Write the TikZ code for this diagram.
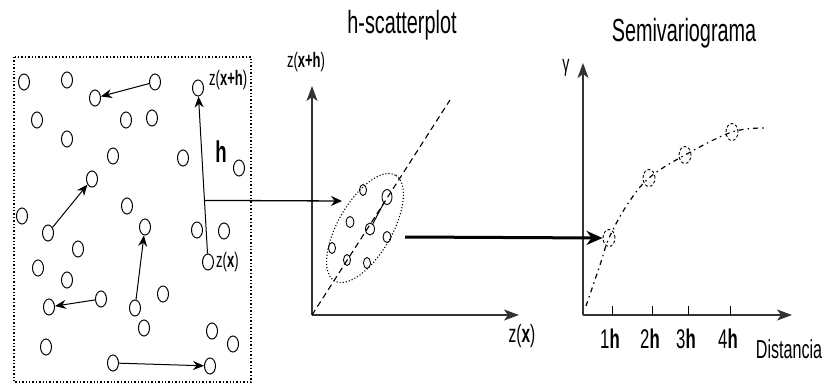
\documentclass[tikz,border=0pt]{standalone}
\usepackage{fontspec}
\newfontfamily\cf[FakeStretch=0.62]{Liberation Sans}
\usetikzlibrary{arrows.meta,shapes.geometric,calc}
\begin{document}
\begin{tikzpicture}[x=1pt,y=-1pt,
  pt/.style={draw,ellipse,line width=1pt,minimum width=11pt,minimum height=16pt,inner sep=0pt},
  spt/.style={draw,ellipse,line width=0.9pt,minimum width=7pt,minimum height=11pt,inner sep=0pt},
  bpt/.style={draw,ellipse,line width=0.9pt,minimum width=10pt,minimum height=15pt,inner sep=0pt},
  vpt/.style={draw,ellipse,line width=0.9pt,densely dashed,minimum width=12pt,minimum height=17pt,inner sep=0pt},
  arr/.style={line width=1pt,-{Stealth[length=11pt,width=9pt]}},
  axis/.style={line width=1.3pt,draw=black!80,-{Stealth[length=15pt,width=11pt,inset=4pt]}},
  lbl/.style={inner sep=0pt,font=\cf\fontsize{21}{23}\selectfont},
  ttl/.style={inner sep=0pt,font=\cf\fontsize{32}{34}\selectfont}]
\useasboundingbox (0,0) rectangle (826,385);
% left box
\draw[dotted,line width=1.4pt] (14,57) rectangle (251,382);
% points
\node[pt] (p1) at (24,82) {};
\node[pt] (p2) at (67,80) {};
\node[pt] (p3) at (155,82) {};
\node[pt] (p4) at (95,98) {};
\node[pt] (zxh) at (198,88) {};
\node[pt] (p6) at (37,120) {};
\node[pt] (p7) at (126,120) {};
\node[pt] (p8) at (152,118) {};
\node[pt] (p9) at (67,139) {};
\node[pt] (p10) at (113,156) {};
\node[pt] (p11) at (183,158) {};
\node[pt] (p12) at (239,168) {};
\node[pt] (p13) at (92,179) {};
\node[pt] (p14) at (22,216) {};
\node[pt] (p15) at (127,206) {};
\node[pt] (p16) at (48,233) {};
\node[pt] (p17) at (78,249) {};
\node[pt] (p18) at (145,227) {};
\node[pt] (p19) at (197,230) {};
\node[pt] (p20) at (224,231) {};
\node[pt] (zx) at (208,262) {};
\node[pt] (p22) at (38,268) {};
\node[pt] (p23) at (67,280) {};
\node[pt] (p24) at (163,294) {};
\node[pt] (p25) at (101,299) {};
\node[pt] (p26) at (49,307) {};
\node[pt] (p27) at (135,308) {};
\node[pt] (p28) at (144,328) {};
\node[pt] (p29) at (212,331) {};
\node[pt] (p30) at (233,344) {};
\node[pt] (p31) at (46,347) {};
\node[pt] (p32) at (113,363) {};
\node[pt] (p33) at (210,366) {};
% pair arrows
\draw[arr] (p3) -- (p4);
\draw[arr] (p16) -- (p13);
\draw[arr] (p27) -- (p18);
\draw[arr] (p25) -- (p26);
\draw[arr] (p32) -- (p33);
\draw[arr] (zx) -- (zxh);
% labels in box
\node[lbl,anchor=west] (lzxh) at (209,80) {z(\textbf{x+h})};
\node[inner sep=0pt,font=\cf\bfseries\fontsize{30}{32}\selectfont] (lh) at (221,152) {h};
\node[lbl,anchor=west] (lzx) at (216,262) {z(\textbf{x})};
% h-scatterplot
\node[ttl] (t1) at (402,25) {h-scatterplot};
\node[lbl] (lyax) at (306,62) {z(\textbf{x+h})};
\coordinate (o1) at (312,315);
\coordinate (y1) at (312,86);
\coordinate (x1) at (519,315);
\draw[axis] (o1) -- (y1);
\draw[axis] (o1) -- (x1);
\node[inner sep=0pt,font=\cf\fontsize{25}{27}\selectfont] (lxax) at (522,336) {z(\textbf{x})};
\coordinate (d2) at (450,100);
\draw[line width=1.1pt,dash pattern=on 6pt off 4pt] (o1) -- (d2);
\node[draw,ellipse,dotted,line width=1.1pt,rotate=60,minimum width=122pt,minimum height=54pt] (cloud) at (365,228) {};
\node[spt] (s1) at (363,190) {};
\node[bpt] (s2) at (387,197) {};
\node[spt,minimum width=8pt,minimum height=11pt] (s3) at (350,222) {};
\node[spt,minimum width=9pt,minimum height=12pt] (s4) at (370,229) {};
\node[spt,minimum width=8pt,minimum height=11pt] (s5) at (387,237) {};
\node[spt] (s6) at (332,248) {};
\node[spt] (s7) at (347,260) {};
\node[spt] (s8) at (367,263) {};
\draw[line width=1pt] (s4) -- (s2);
% connector from h to scatterplot
\coordinate (hj) at ($(zx)!0.354!(zxh)$);
\coordinate (cin) at (342,201);
\draw[line width=1.3pt,-{Stealth[length=11pt,width=10pt]}] (hj) -- (cin);
% semivariogram
\node[ttl] (t2) at (684,33) {Semivariograma};
\node[inner sep=0pt,font=\cf\fontsize{23}{25}\selectfont] (lg) at (566,68) {γ};
\coordinate (o2) at (583,315);
\coordinate (y2) at (583,63);
\coordinate (x2) at (792,315);
\draw[axis] (o2) -- (y2);
\draw[axis] (o2) -- (x2);
\foreach \i/\xx in {1/612,2/652,3/688,4/730}{
  \coordinate (tk\i) at (\xx,315);
  \draw[line width=1pt] (tk\i) -- ++(0,-9);
  \node[inner sep=0pt,font=\cf\fontsize{27}{29}\selectfont] (tl\i) at (\xx-2,339) {\i\textbf{h}};
}
\node[inner sep=0pt,font=\cf\fontsize{26}{28}\selectfont] (ld) at (789,349) {Distancia};
\node[vpt] (v1) at (609,238) {};
\node[vpt] (v2) at (649,178) {};
\node[vpt] (v3) at (685,155) {};
\node[vpt] (v4) at (732,132) {};
\draw[line width=1.2pt,dash pattern=on 5pt off 4pt on 1.5pt off 4pt]
  plot[smooth,tension=0.6] coordinates {(586,306) (600,265) (609,238) (627,205) (649,178) (685,155) (732,132) (765,128)};
\coordinate (cout) at (405,237);
\draw[line width=3pt,-{Stealth[length=16pt,width=14pt,inset=5pt]}] (cout) -- (v1.west);
\end{tikzpicture}
\end{document}
